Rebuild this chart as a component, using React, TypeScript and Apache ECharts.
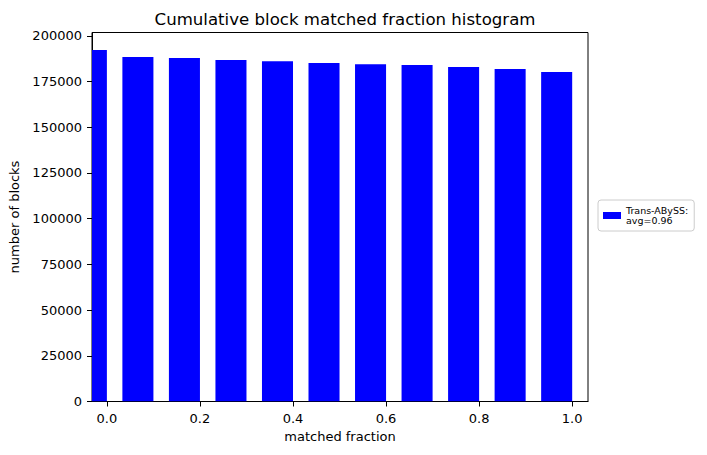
import React, { useEffect, useRef } from "react";
import * as echarts from "echarts";

const binLefts = [-0.0667, 0.0333, 0.1333, 0.2333, 0.3333, 0.4333, 0.5333, 0.6333, 0.7333, 0.8333, 0.9333];
const binWidth = 0.0667;
const blockCounts = [192200, 188400, 187800, 186700, 186100, 185100, 184500, 184000, 182900, 181800, 180200];
const xTicks = [0, 0.2, 0.4, 0.6, 0.8, 1.0];
const yTicks = [0, 25000, 50000, 75000, 100000, 125000, 150000, 175000, 200000];
const seriesName = "Trans-ABySS:\navg=0.96";

const FONT = "DejaVu Sans";

export default function App() {
  const ref = useRef<HTMLDivElement>(null);
  useEffect(() => {
    const chart = echarts.init(ref.current!, null, { renderer: "svg" });
    chart.setOption({
      animation: false,
      backgroundColor: "#fff",
      title: {
        text: "Cumulative block matched fraction histogram",
        left: 340,
        textAlign: "center",
        top: 6,
        textStyle: { fontFamily: FONT, fontSize: 16.6, fontWeight: "normal", color: "#000" },
      },
      grid: {
        left: 92,
        right: 119,
        top: 32.5,
        bottom: 53.5,
        show: true,
        borderColor: "#000",
        borderWidth: 1,
        backgroundColor: "transparent",
      },
      legend: {
        orient: "vertical",
        left: 598,
        top: 200,
        icon: "rect",
        itemWidth: 18,
        itemHeight: 7,
        itemGap: 0,
        padding: [5, 6, 5, 5],
        borderColor: "#ccc",
        borderWidth: 1,
        borderRadius: 3,
        textStyle: { fontFamily: FONT, fontSize: 9.5, lineHeight: 10.5, color: "#000" },
        data: [seriesName],
      },
      xAxis: {
        type: "value",
        min: -0.032,
        max: 1.034,
        name: "matched fraction",
        nameLocation: "middle",
        nameGap: 28,
        nameTextStyle: { fontFamily: FONT, fontSize: 13, color: "#000" },
        splitLine: { show: false },
        axisLine: { show: true, onZero: false, lineStyle: { color: "#000", width: 1 } },
        axisTick: { show: true, length: 5, lineStyle: { color: "#000" }, customValues: xTicks },
        axisLabel: {
          fontFamily: FONT,
          fontSize: 13,
          color: "#000",
          margin: 10,
          customValues: xTicks,
          formatter: (v: number) => v.toFixed(1),
        },
      },
      yAxis: {
        type: "value",
        min: 0,
        max: 201800,
        name: "number of blocks",
        nameLocation: "middle",
        nameGap: 68,
        nameTextStyle: { fontFamily: FONT, fontSize: 13, color: "#000" },
        splitLine: { show: false },
        axisLine: { show: true, onZero: false, lineStyle: { color: "#000", width: 1 } },
        axisTick: { show: true, length: 5, lineStyle: { color: "#000" }, customValues: yTicks },
        axisLabel: {
          fontFamily: FONT,
          fontSize: 13,
          color: "#000",
          margin: 10,
          customValues: yTicks,
          formatter: (v: number) => String(v),
        },
      },
      series: [
        {
          name: seriesName,
          type: "custom",
          clip: true,
          itemStyle: { color: "#0000ff" },
          encode: { x: [0, 1], y: 2 },
          data: binLefts.map((x, i) => [x, x + binWidth, blockCounts[i]]),
          renderItem: (params: any, api: any) => {
            const p0 = api.coord([api.value(0), api.value(2)]);
            const p1 = api.coord([api.value(1), 0]);
            const cs = params.coordSys;
            const shape = echarts.graphic.clipRectByRect(
              { x: p0[0], y: p0[1], width: p1[0] - p0[0], height: p1[1] - p0[1] },
              { x: cs.x, y: cs.y, width: cs.width, height: cs.height }
            );
            if (!shape) return null;
            return { type: "rect", shape, style: { fill: "#0000ff" } };
          },
        },
      ],
    });
    return () => chart.dispose();
  }, []);
  return <div ref={ref} style={{ width: 707, height: 455, position: "absolute", left: 0, top: 0 }} />;
}
